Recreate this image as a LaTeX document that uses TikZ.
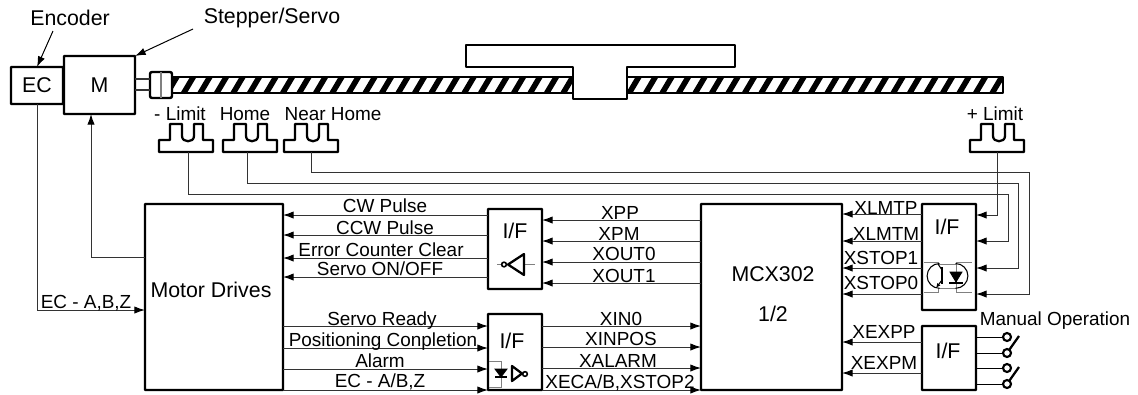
\documentclass[tikz,border=0pt]{standalone}
\usepackage{fontspec}
\setmainfont{Liberation Sans}
\usetikzlibrary{arrows.meta,calc}

% one sensor fork, #1 = name of its wire end, #2 = left x, #3 = x of the wire
\newcommand{\sensorfork}[3]{
  \draw[heavy, shift={(#2,0)}] (0,140) -- (11,140) -- (11,124) -- (23,124) -- (23,136)
    .. controls (23,143) and (35,143) .. (35,136) -- (35,124) -- (44,124) -- (44,140)
    -- (54,140) -- (54,152) -- (0,152) -- cycle;
  \coordinate (#1) at (#3,152);
}

\begin{document}
\begin{tikzpicture}[
    x=0.75pt, y=-0.75pt,
    heavy/.style={line width=1.7pt, line join=round},
    block/.style={rectangle, draw, line width=1.8pt, rounded corners=0.5pt,
                  inner sep=0pt, outer sep=0pt, minimum width=40.5pt},
    wire/.style={line width=0.75pt, draw=black!80},
    arr/.style={wire, -{Latex[length=8pt,width=5.5pt,black]}},
    thinbox/.style={line width=0.6pt, draw=black!50},
    sig/.style={anchor=base, inner sep=0pt, font=\fontsize{14.2}{16}\selectfont},
    big/.style={anchor=base, inner sep=0pt, font=\fontsize{16}{18}\selectfont},
    swt/.style={circle, draw, line width=1.6pt, fill=white, inner sep=0pt,
                outer sep=0pt, minimum size=6pt}
  ]
    \useasboundingbox (0,0) rectangle (1138,394);

    % Lead screw
    \begin{scope}
      \clip (172,77) rectangle (1003,93);
      \foreach \sx in {164,180.5,...,1010}
        \fill (\sx,93) -- (\sx+6.5,93) -- (\sx+16,77) -- (\sx+9.5,77) -- cycle;
    \end{scope}
    \draw[heavy] (172,77) rectangle (1003,93);

    % Table
    \draw[heavy, fill=white] (466,45) -- (735,45) -- (735,67) -- (627,67) -- (627,99)
      -- (573,99) -- (573,67) -- (466,67) -- cycle;

    % Motor and coupling
    \node[block, minimum width=39pt, minimum height=27.75pt, font=\fontsize{16}{18}\selectfont]
      (ec) at (37,85.5) {EC};
    \node[block, minimum width=53.25pt, minimum height=43.5pt, font=\fontsize{16}{18}\selectfont]
      (mot) at (99.5,85) {M};
    \node[block, minimum width=16.5pt, minimum height=19.5pt, rounded corners=1.5pt, fill=white]
      (cpl) at (161,85) {};
    \draw[thinbox, line width=0.8pt] (cpl.north) -- (cpl.south);
    \draw[wire, line width=1pt] (mot.east |- 0,79) -- (cpl.west |- 0,79);
    \draw[wire, line width=1pt] (mot.east |- 0,90) -- (cpl.west |- 0,90);

    % Top labels
    \node[big] (enclbl) at (70,25) {Encoder};
    \node[big] (stplbl) at (272,23) {Stepper/Servo};
    \coordinate (enctail) at (53,31);
    \coordinate (stptail) at (193,29);
    \draw[arr, draw=black] (enctail) -- (ec.north);
    \draw[arr, draw=black] (stptail) -- (mot.north east);

    % Sensors
    \sensorfork{slimm}{159}{188}
    \sensorfork{shome}{223}{247}
    \sensorfork{snear}{284}{311}
    \sensorfork{slimp}{970}{997}
    \node[sig] (lblimm) at (180,120) {- Limit};
    \node[sig] (lbhome) at (245,120) {Home};
    \node[sig] (lbnear) at (333,120) {Near Home};
    \node[sig] (lblimp) at (995,120) {+ Limit};

    % Blocks
    \node[block, minimum width=103.5pt, minimum height=139.5pt] (motor) at (214,297) {};
    \node[block, minimum height=60pt] (ifa) at (515,249) {};
    \node[block, minimum height=57pt] (ifb) at (515,352) {};
    \node[block, minimum width=105.75pt, minimum height=139.5pt] (mcx) at (771.5,297) {};
    \node[block, minimum height=79.5pt] (ifc) at (949,257) {};
    \node[block, minimum height=48pt] (ifd) at (949,358) {};

    \node[big] (motortxt) at (211,297) {Motor Drives};
    \node[big] (mcxtxt) at (773,281) {MCX302};
    \node[big] (mcxtxtb) at (773,321) {1/2};
    \node[big] (ifatxt) at (515,238) {I/F};
    \node[big] (ifbtxt) at (512,348) {I/F};
    \node[big] (ifctxt) at (947,234) {I/F};
    \node[big] (ifdtxt) at (948,358) {I/F};

    % Encoder and motor wires
    \draw[arr] (ec.south) -- (37,310) -- (motor.west |- 0,310);
    \draw[arr] (motor.west |- 0,257) -- (91,257) -- (mot.south -| 91,0);
    \node[sig] (ecabz) at (86,308) {EC - A,B,Z};

    % Sensor wires
    \draw[arr] (slimp) -- (997,215) -- (ifc.east |- 0,215);
    \draw[arr] (slimm) -- (188,194) -- (1008,194) -- (1008,241) -- (ifc.east |- 0,241);
    \draw[arr] (shome) -- (247,183) -- (1018,183) -- (1018,268) -- (ifc.east |- 0,268);
    \draw[arr] (snear) -- (311,172) -- (1029,172) -- (1029,294) -- (ifc.east |- 0,294);

    % Row: I/F to Motor Drives
    \draw[arr] (ifa.west |- 0,215) -- (motor.east |- 0,215);
    \draw[arr] (ifa.west |- 0,235) -- (motor.east |- 0,235);
    \draw[arr] (ifa.west |- 0,258) -- (motor.east |- 0,258);
    \draw[arr] (ifa.west |- 0,277) -- (motor.east |- 0,277);
    \node[sig] (cw) at (385,212) {CW Pulse};
    \node[sig] (ccw) at (385,234) {CCW Pulse};
    \node[sig] (ecc) at (381,256) {Error Counter Clear};
    \node[sig] (son) at (380,275) {Servo ON/OFF};

    % Row: MCX302 to I/F
    \draw[arr] (mcx.west |- 0,220) -- (ifa.east |- 0,220);
    \draw[arr] (mcx.west |- 0,241) -- (ifa.east |- 0,241);
    \draw[arr] (mcx.west |- 0,262) -- (ifa.east |- 0,262);
    \draw[arr] (mcx.west |- 0,283) -- (ifa.east |- 0,283);
    \node[sig] (xpp) at (620,219) {XPP};
    \node[sig] (xpm) at (619,240) {XPM};
    \node[sig] (xoutz) at (624,260) {XOUT0};
    \node[sig] (xouta) at (624,282) {XOUT1};

    % Row: Motor Drives to I/F
    \draw[arr] (motor.east |- 0,326) -- (ifb.west |- 0,326);
    \draw[arr] (motor.east |- 0,348) -- (ifb.west |- 0,348);
    \draw[arr] (motor.east |- 0,369) -- (ifb.west |- 0,369);
    \draw[arr] (motor.east |- 0,390) -- (ifb.west |- 0,390);
    \node[sig] (srdy) at (382,325) {Servo Ready};
    \node[sig] (pcmp) at (383,346) {Positioning Conpletion};
    \node[sig] (alrm) at (380,367) {Alarm};
    \node[sig] (ecab) at (380,387) {EC - A/B,Z};

    % Row: I/F to MCX302
    \draw[arr] (ifb.east |- 0,326) -- (mcx.west |- 0,326);
    \draw[arr] (ifb.east |- 0,347) -- (mcx.west |- 0,347);
    \draw[arr] (ifb.east |- 0,368) -- (mcx.west |- 0,368);
    \draw[arr] (ifb.east |- 0,390) -- (mcx.west |- 0,390);
    \node[sig] (xinz) at (621,325) {XIN0};
    \node[sig] (xinpos) at (621,345) {XINPOS};
    \node[sig] (xalarm) at (618,367) {XALARM};
    \node[sig] (xeca) at (620,388) {XECA/B,XSTOP2};

    % Row: I/F to MCX302, right side
    \draw[arr] (ifc.west |- 0,214) -- (mcx.east |- 0,214);
    \draw[arr] (ifc.west |- 0,241) -- (mcx.east |- 0,241);
    \draw[arr] (ifc.west |- 0,268) -- (mcx.east |- 0,268);
    \draw[arr] (ifc.west |- 0,294) -- (mcx.east |- 0,294);
    \draw[arr] (ifd.west |- 0,342) -- (mcx.east |- 0,342);
    \draw[arr] (ifd.west |- 0,373) -- (mcx.east |- 0,373);
    \node[sig] (xlmtp) at (886,214) {XLMTP};
    \node[sig] (xlmtm) at (886,240) {XLMTM};
    \node[sig] (xstopa) at (881,264) {XSTOP1};
    \node[sig] (xstopz) at (881,289) {XSTOP0};
    \node[sig] (xexpp) at (884,338) {XEXPP};
    \node[sig] (xexpm) at (884,369) {XEXPM};

    % Manual switches
    \node[sig] (manop) at (1055,325) {Manual Operation};
    \node[swt] (swa) at (1007,337) {};
    \node[swt] (swb) at (1007,353) {};
    \node[swt] (swc) at (1007,368) {};
    \node[swt] (swd) at (1007,384) {};
    \draw[wire, draw=black] (ifd.east |- swa) -- (swa);
    \draw[wire, draw=black] (ifd.east |- swb) -- (swb);
    \draw[wire, draw=black] (ifd.east |- swc) -- (swc);
    \draw[wire, draw=black] (ifd.east |- swd) -- (swd);
    \coordinate (lva) at (1019,336);
    \coordinate (lvb) at (1019,367);
    \draw[heavy] (swb) -- (lva);
    \draw[heavy] (swd) -- (lvb);

    % Inverter, top I/F
    \draw[thinbox] (497,264) -- (535,264);
    \draw[heavy, fill=white] (524,254) -- (524,275) -- (508,264.5) -- cycle;
    \node[swt, minimum size=3.5pt, line width=1.2pt] (inva) at (504,264.5) {};

    % Photo coupler, bottom I/F
    \draw[thinbox] (489,361) -- (501,361) -- (501,387) -- (489,387);
    \draw[fill=black, line width=0.6pt] (495,369) -- (507,369) -- (501,377) -- cycle;
    \draw[heavy] (495,377) -- (507,377);
    \draw[heavy, fill=white] (512,366) -- (512,381) -- (522,373.5) -- cycle;
    \node[swt, minimum size=3.5pt, line width=1.2pt] (invb) at (525,374) {};

    % Photo coupler, right I/F
    \draw[thinbox] (924,262) -- (938,262) -- (938,264) -- (956,264) -- (956,262) -- (972,262);
    \draw[thinbox] (924,292) -- (938,292) -- (938,288) -- (956,288) -- (956,292) -- (972,292);
    \draw[thinbox] (956,264) -- (956,288);
    \draw[line width=0.8pt] (939.5,263.5) arc[start angle=90, end angle=270, radius=9.3pt];
    \draw[line width=0.8pt] (955.5,263.5) arc[start angle=90, end angle=-90, radius=9.3pt];
    \draw[line width=1.8pt] (942,267) -- (942,284);
    \draw[line width=0.8pt] (942,270) -- (938,264);
    \draw[line width=0.8pt, -{Latex[length=3.5pt,width=3pt]}] (942,280) -- (936,288);
    \draw[fill=black, line width=0.6pt] (950,272) -- (962,272) -- (956,282) -- cycle;
    \draw[heavy] (949,283) -- (963,283);
\end{tikzpicture}
\end{document}
